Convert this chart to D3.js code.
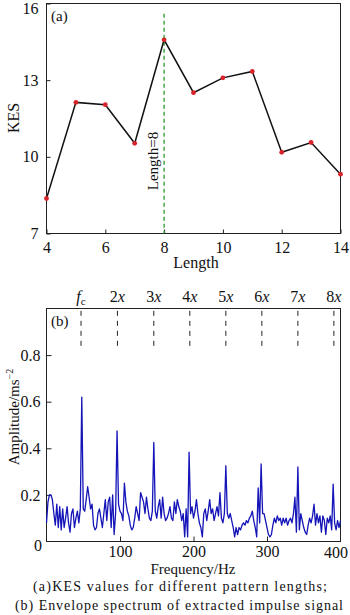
<!DOCTYPE html>
<html>
<head>
<meta charset="utf-8">
<script src="https://cdn.jsdelivr.net/npm/d3@7"></script>
<style>
  html, body { margin: 0; padding: 0; background: #fff; }
  svg { display: block; }
  text { font-family: "Liberation Serif", "Times New Roman", serif; fill: #111; }
</style>
</head>
<body>
<svg id="chart" width="350" height="615"></svg>
<script>
// ---------- Data: chart (a) ----------
const patternLengths = [4, 5, 6, 7, 8, 9, 10, 11, 12, 13, 14];
const kesValues = [8.37, 12.13, 12.04, 10.53, 14.58, 12.51, 13.09, 13.34, 10.18, 10.56, 9.32];
const kesTicks = [7, 10, 13, 16];
const lengthTicks = [4, 6, 8, 10, 12, 14];
const selectedLength = 8;

// ---------- Data: chart (b) ----------
const freqStep = 2; // Hz between spectrum samples (0 .. 400 Hz)
const amplitudes = [
  0.08, 0.17, 0.20, 0.20, 0.18, 0.12, 0.07, 0.16, 0.06, 0.15,
  0.05, 0.14, 0.06, 0.10, 0.15, 0.08, 0.04, 0.12, 0.14, 0.06,
  0.10, 0.13, 0.08, 0.14, 0.62, 0.14, 0.13, 0.18, 0.235, 0.19,
  0.14, 0.16, 0.07, 0.05, 0.06, 0.12, 0.14, 0.10, 0.06, 0.12,
  0.18, 0.09, 0.17, 0.19, 0.06, 0.20, 0.03, 0.12, 0.475, 0.16,
  0.13, 0.12, 0.09, 0.25, 0.17, 0.13, 0.11, 0.07, 0.05, 0.06,
  0.10, 0.15, 0.12, 0.09, 0.21, 0.19, 0.17, 0.12, 0.19, 0.14,
  0.10, 0.09, 0.13, 0.425, 0.13, 0.10, 0.15, 0.18, 0.10, 0.19,
  0.12, 0.09, 0.10, 0.12, 0.15, 0.10, 0.09, 0.17, 0.12, 0.18,
  0.15, 0.13, 0.09, 0.12, 0.02, 0.14, 0.02, 0.383, 0.12, 0.15,
  0.10, 0.13, 0.18, 0.12, 0.08, 0.06, 0.02, 0.12, 0.14, 0.09,
  0.13, 0.18, 0.12, 0.14, 0.09, 0.12, 0.15, 0.11, 0.21, 0.10,
  0.08, 0.12, 0.325, 0.12, 0.10, 0.12, 0.09, 0.06, 0.02, 0.06,
  0.03, 0.06, 0.05, 0.07, 0.08, 0.07, 0.09, 0.08, 0.10, 0.11,
  0.13, 0.09, 0.06, 0.02, 0.23, 0.08, 0.333, 0.12, 0.12, 0.09,
  0.06, 0.03, 0.02, 0.03, 0.07, 0.10, 0.08, 0.11, 0.09, 0.10,
  0.07, 0.10, 0.08, 0.10, 0.07, 0.09, 0.10, 0.08, 0.12, 0.19,
  0.04, 0.32, 0.05, 0.12, 0.09, 0.06, 0.04, 0.03, 0.07, 0.10,
  0.08, 0.11, 0.16, 0.07, 0.12, 0.08, 0.11, 0.04, 0.11, 0.09,
  0.03, 0.10, 0.08, 0.11, 0.05, 0.246, 0.08, 0.05, 0.09, 0.06,
  0.09
];
const ampTicks = [0.2, 0.4, 0.6, 0.8];
const freqTicks = [100, 200, 300];
const freqTickLabels = [100, 200, 300, 400];
const harmonicFreqs = [47, 96.5, 146, 195, 244, 293, 342, 391];
const harmonicLabels = ["fc", "2x", "3x", "4x", "5x", "6x", "7x", "8x"];

const svg = d3.select("#chart");

// ================= Chart (a) =================
const xa = d3.scaleLinear().domain([4, 14]).range([46.5, 340.5]);
const ya = d3.scaleLinear().domain([7, 16]).range([233.5, 3.5]);
const ga = svg.append("g");

ga.append("rect").attr("x", xa(4)).attr("y", ya(16))
  .attr("width", xa(14) - xa(4)).attr("height", ya(7) - ya(16))
  .attr("fill", "none").attr("stroke", "#222").attr("stroke-width", 1);

const axA_left = ga.append("g").attr("transform", `translate(${xa(4)},0)`)
  .call(d3.axisLeft(ya).tickValues(kesTicks).tickSize(-4).tickPadding(8).tickFormat(d3.format("d")));
const axA_bottom = ga.append("g").attr("transform", `translate(0,${ya(7)})`)
  .call(d3.axisBottom(xa).tickValues(lengthTicks).tickSize(-4).tickPadding(8).tickFormat(d3.format("d")));
[axA_left, axA_bottom].forEach(a => {
  a.select(".domain").remove();
  a.selectAll(".tick line").attr("stroke", "#222");
  a.selectAll(".tick text").style("font-size", "16px").style("font-family", "Liberation Serif").attr("fill", "#111");
});
// keep the top label ("16") inside the picture, as in the reference
axA_left.selectAll(".tick text").filter(d => d === 16).attr("dy", "0.62em");

ga.append("line")
  .attr("x1", xa(selectedLength)).attr("x2", xa(selectedLength))
  .attr("y1", ya(15.6)).attr("y2", ya(7))
  .attr("stroke", "#2a9a2a").attr("stroke-width", 1.3).attr("stroke-dasharray", "4,3");

ga.append("text")
  .attr("transform", `translate(${xa(selectedLength) - 6},161) rotate(-90)`)
  .attr("text-anchor", "middle")
  .style("font-size", "15px")
  .text("Length=8");

const lineA = d3.line().x((d, i) => xa(patternLengths[i])).y(d => ya(d));
ga.append("path").datum(kesValues).attr("d", lineA)
  .attr("fill", "none").attr("stroke", "#111").attr("stroke-width", 1.5);
ga.selectAll("circle.pt").data(kesValues).join("circle")
  .attr("class", "pt")
  .attr("cx", (d, i) => xa(patternLengths[i])).attr("cy", d => ya(d))
  .attr("r", 2.4).attr("fill", "#d8232a");

ga.append("text").attr("x", 51).attr("y", 21).style("font-size", "15px").text("(a)");
ga.append("text")
  .attr("transform", "translate(19,118) rotate(-90)")
  .attr("text-anchor", "middle").style("font-size", "16px").text("KES");
ga.append("text").attr("x", 196).attr("y", 268)
  .attr("text-anchor", "middle").style("font-size", "16px").text("Length");

// ================= Chart (b) =================
const xb = d3.scaleLinear().domain([0, 400]).range([46.5, 340.5]);
const yb = d3.scaleLinear().domain([0, 1]).range([541.5, 308.5]);
const gb = svg.append("g");

gb.append("rect").attr("x", xb(0)).attr("y", yb(1))
  .attr("width", xb(400) - xb(0)).attr("height", yb(0) - yb(1))
  .attr("fill", "none").attr("stroke", "#222").attr("stroke-width", 1);

const axB_left = gb.append("g").attr("transform", `translate(${xb(0)},0)`)
  .call(d3.axisLeft(yb).tickValues(ampTicks).tickSize(-5).tickPadding(6).tickFormat(d3.format(".1f")));
const axB_bottom = gb.append("g").attr("transform", `translate(0,${yb(0)})`)
  .call(d3.axisBottom(xb).tickValues(freqTicks).tickSize(-5).tickPadding(4).tickFormat(d3.format("d")));
[axB_left, axB_bottom].forEach(a => {
  a.select(".domain").remove();
  a.selectAll(".tick line").attr("stroke", "#222");
  a.selectAll(".tick text").style("font-size", "16px").style("font-family", "Liberation Serif").attr("fill", "#111");
});
// 400 label at the right edge and 0 label at the corner
gb.append("text").attr("x", 348).attr("y", yb(0) + 16)
  .attr("text-anchor", "end").style("font-size", "16px").text(freqTickLabels[3]);
gb.append("text").attr("x", 42).attr("y", yb(0) + 9)
  .attr("text-anchor", "end").style("font-size", "16px").text("0");

const lineB = d3.line().x((d, i) => xb(i * freqStep)).y(d => yb(d));
gb.append("path").datum(amplitudes).attr("d", lineB)
  .attr("fill", "none").attr("stroke", "#1414b8").attr("stroke-width", 1.3)
  .attr("stroke-linejoin", "round");

harmonicFreqs.forEach((f, k) => {
  gb.append("line").attr("x1", xb(f)).attr("x2", xb(f))
    .attr("y1", yb(0.99)).attr("y2", yb(0.835))
    .attr("stroke", "#222").attr("stroke-width", 1).attr("stroke-dasharray", "5,5");
  const t = gb.append("text").attr("x", xb(f)).attr("y", 302)
    .attr("text-anchor", "middle").style("font-size", "16px");
  const lab = harmonicLabels[k];
  if (lab === "fc") {
    t.append("tspan").style("font-style", "italic").text("f");
    t.append("tspan").attr("dy", 3).style("font-size", "11px").text("c");
  } else {
    t.append("tspan").text(lab[0]);
    t.append("tspan").style("font-style", "italic").text(lab[1]);
  }
});

gb.append("text").attr("x", 51).attr("y", 326).style("font-size", "15px").text("(b)");

const yl = gb.append("text")
  .attr("transform", "translate(19,417) rotate(-90)")
  .attr("text-anchor", "middle").style("font-size", "15px");
yl.append("tspan").text("Amplitude/ms");
yl.append("tspan").attr("dy", -6).style("font-size", "10px").text("−2");

gb.append("text").attr("x", 193).attr("y", 574)
  .attr("text-anchor", "middle").style("font-size", "15px").text("Frequency/Hz");

svg.append("text").attr("x", 33).attr("y", 591)
  .attr("textLength", 294).attr("lengthAdjust", "spacing")
  .style("font-size", "14px").text("(a)KES values for different pattern lengths;");
svg.append("text").attr("x", 15).attr("y", 610)
  .attr("textLength", 328).attr("lengthAdjust", "spacing")
  .style("font-size", "14px").text("(b)  Envelope spectrum of extracted impulse signal");
</script>
</body>
</html>
